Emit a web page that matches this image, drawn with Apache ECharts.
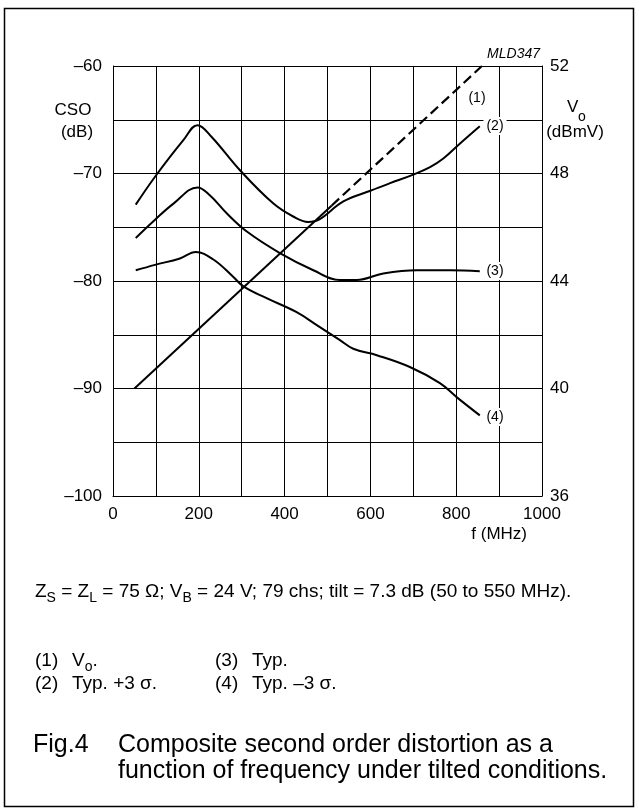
<!DOCTYPE html>
<html><head><meta charset="utf-8">
<script src="https://cdn.jsdelivr.net/npm/echarts@6/dist/echarts.min.js"></script>
<style>html,body{margin:0;padding:0;background:#fff}#c{width:639px;height:812px}</style>
</head><body><div id="c"></div>
<script>
// ---- data ----
// (2) Typ. +3 sigma (CSO, dB)
const freqPlus3 = [53, 98, 164, 197, 230, 296, 374, 420, 455, 480, 537, 600, 646, 700, 739, 770, 809, 855];
const csoPlus3  = [-72.9, -70.3, -66.9, -65.5, -66.6, -69.7, -72.8, -74.0, -74.5, -74.3, -72.6, -71.6, -70.9, -70.1, -69.4, -68.6, -67.2, -65.6];
// (3) Typ.
const freqTyp = [53, 98, 141, 197, 225, 265, 312, 389, 467, 529, 568, 630, 708, 786, 855];
const csoTyp  = [-76.0, -74.3, -72.8, -71.3, -72.0, -73.7, -75.4, -77.4, -79.0, -79.9, -79.9, -79.3, -79.0, -79.0, -79.1];
// (4) Typ. -3 sigma
const freqMinus3 = [53, 98, 156, 193, 234, 280, 304, 358, 428, 475, 529, 560, 615, 692, 762, 801, 855];
const csoMinus3  = [-79.0, -78.5, -77.9, -77.3, -78.0, -79.6, -80.5, -81.6, -82.9, -84.1, -85.5, -86.3, -86.9, -88.0, -89.5, -90.8, -92.5];
// (1) Vo (dBmV), solid part then dashed part
const freqVoSolid = [50, 510];
const voSolid     = [40, 46.81];
const freqVoDash  = [510, 860];
const voDash      = [46.81, 52];
// axis ticks
const freqTicks = [0, 200, 400, 600, 800, 1000];
const csoTicks  = [-100, -90, -80, -70, -60];
const voTicks   = [36, 40, 44, 48, 52];

const pairs = (xs, ys) => xs.map((x, i) => [x, ys[i]]);
const FONT = "'Liberation Sans', Arial, sans-serif";

const chart = echarts.init(document.getElementById('c'), null, {renderer: 'canvas'});

const lineBase = {type: 'line', symbol: 'none', silent: true, lineStyle: {color: '#000', width: 2}};

function txt(x, y, text, size, extra) {
  return {type: 'text', z: 100, style: Object.assign({x, y, text, fill: '#000', font: size + 'px ' + FONT, textVerticalAlign: 'middle'}, extra || {})};
}
function lbl(x, y, text) {
  return {type: 'text', z: 100, style: {x, y, text, fill: '#000', font: '14px ' + FONT, textAlign: 'center', textVerticalAlign: 'middle', backgroundColor: '#fff', padding: [2, 3]}};
}
const richSub = (size, sub) => ({
  n: {fontSize: size, fontFamily: FONT, lineHeight: size + 7, verticalAlign: 'middle', fill: '#000'},
  s: {fontSize: sub, fontFamily: FONT, lineHeight: size + 7, verticalAlign: 'bottom', fill: '#000'}
});

const option = {
  animation: false,
  backgroundColor: '#fff',
  grid: {left: 113, top: 66, right: 97, bottom: 316},
  xAxis: {
    type: 'value', min: 0, max: 1000, interval: 100,
    axisLine: {show: true, lineStyle: {color: '#000', width: 1}},
    axisTick: {show: false},
    axisLabel: {color: '#000', fontSize: 17, fontFamily: FONT, margin: 10,
      formatter: v => freqTicks.includes(v) ? String(v) : ''},
    splitLine: {show: true, lineStyle: {color: '#000', width: 1}}
  },
  yAxis: [
    {
      type: 'value', min: -100, max: -60, interval: 5,
      axisLine: {show: true, lineStyle: {color: '#000', width: 1}},
      axisTick: {show: false},
      axisLabel: {color: '#000', fontSize: 17, fontFamily: FONT, margin: 11,
        formatter: v => csoTicks.includes(v) ? '\u2013' + Math.abs(v) : ''},
      splitLine: {show: true, lineStyle: {color: '#000', width: 1}}
    },
    {
      type: 'value', position: 'right', min: 36, max: 52, interval: 4,
      axisLine: {show: true, lineStyle: {color: '#000', width: 1}},
      axisTick: {show: false},
      axisLabel: {color: '#000', fontSize: 17, fontFamily: FONT, margin: 8,
        formatter: v => voTicks.includes(v) ? String(v) : ''},
      splitLine: {show: false}
    }
  ],
  series: [
    Object.assign({}, lineBase, {name: 'Vo', yAxisIndex: 1, data: pairs(freqVoSolid, voSolid)}),
    Object.assign({}, lineBase, {name: 'Vo dashed', yAxisIndex: 1, data: pairs(freqVoDash, voDash),
      lineStyle: {color: '#000', width: 2.2, type: [10, 5]}}),
    Object.assign({}, lineBase, {name: 'Typ +3s', smooth: 0.4, data: pairs(freqPlus3, csoPlus3)}),
    Object.assign({}, lineBase, {name: 'Typ', smooth: 0.4, data: pairs(freqTyp, csoTyp)}),
    Object.assign({}, lineBase, {name: 'Typ -3s', smooth: 0.4, data: pairs(freqMinus3, csoMinus3)})
  ],
  graphic: [
    {type: 'rect', z: 0, shape: {x: 4.5, y: 8.5, width: 629, height: 798}, style: {fill: 'none', stroke: '#000', lineWidth: 1.5}},
    {type: 'text', z: 100, style: {x: 540, y: 54, text: 'MLD347', fill: '#000', font: 'italic 14px ' + FONT, textAlign: 'right', textVerticalAlign: 'middle'}},
    txt(73, 110, 'CSO', 17, {textAlign: 'center'}),
    txt(77, 132, '(dB)', 17, {textAlign: 'center'}),
    txt(567, 107, 'V', 17, {textAlign: 'left'}),
    txt(578, 117, 'o', 14, {textAlign: 'left'}),
    txt(575, 132, '(dBmV)', 17, {textAlign: 'center'}),
    txt(527, 534, 'f (MHz)', 17, {textAlign: 'right'}),
    lbl(477, 98, '(1)'),
    lbl(495, 126, '(2)'),
    lbl(495, 271, '(3)'),
    lbl(495, 417, '(4)'),
    {type: 'text', z: 100, style: {x: 35, y: 592, fill: '#000', textVerticalAlign: 'middle',
      text: '{n|Z}{s|S}{n| = Z}{s|L}{n| = 75 \u03A9; V}{s|B}{n| = 24 V; 79 chs; tilt = 7.3 dB (50 to 550 MHz).}',
      rich: richSub(19, 14)}},
    txt(35, 661, '(1)', 19),
    {type: 'text', z: 100, style: {x: 72, y: 661, fill: '#000', textVerticalAlign: 'middle',
      text: '{n|V}{s|o}{n|.}', rich: richSub(19, 14)}},
    txt(215, 661, '(3)', 19),
    txt(252, 661, 'Typ.', 19),
    txt(35, 684, '(2)', 19),
    txt(72, 684, 'Typ. +3 \u03C3.', 19),
    txt(215, 684, '(4)', 19),
    txt(252, 684, 'Typ. \u20133 \u03C3.', 19),
    txt(33, 745, 'Fig.4', 25),
    txt(118, 745, 'Composite second order distortion as a', 25),
    txt(118, 771, 'function of frequency under tilted conditions.', 25)
  ]
};
chart.setOption(option);
</script></body></html>
